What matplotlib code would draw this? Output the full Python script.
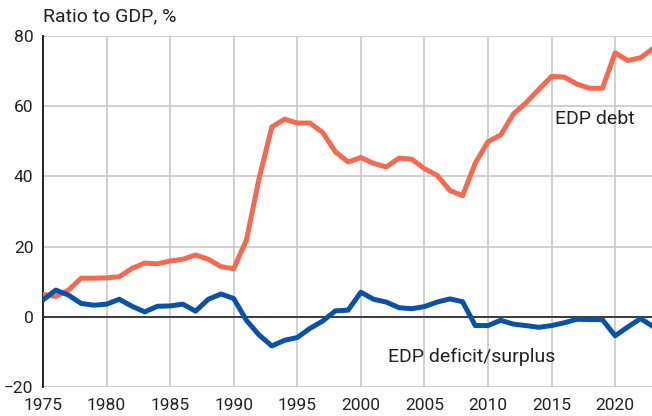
import matplotlib
matplotlib.use("Agg")
import matplotlib.pyplot as plt

years = list(range(1975, 2024))
debt = [6.4, 5.8, 7.6, 11.0, 11.0, 11.1, 11.4, 13.8, 15.3, 15.1, 15.9, 16.4, 17.6, 16.4, 14.3, 13.7,
        21.9, 39.5, 54.1, 56.3, 55.2, 55.2, 52.5, 47.0, 44.1, 45.4, 43.7, 42.7, 45.2, 44.9,
        42.2, 40.3, 36.0, 34.5, 43.8, 49.9, 51.8, 57.8, 61.0, 64.8, 68.5, 68.3, 66.3, 65.1, 65.1,
        75.2, 73.0, 73.8, 76.5]
deficit = [4.8, 7.6, 6.2, 3.8, 3.3, 3.6, 5.0, 3.0, 1.4, 3.0, 3.1, 3.6, 1.6, 5.0, 6.5, 5.2,
           -1.0, -5.2, -8.3, -6.7, -5.9, -3.3, -1.2, 1.7, 1.9, 7.0, 5.0, 4.2, 2.6, 2.3,
           2.9, 4.2, 5.1, 4.3, -2.5, -2.5, -1.0, -2.1, -2.5, -3.0, -2.5, -1.7, -0.7, -0.8, -0.8,
           -5.4, -2.9, -0.5, -2.8]
xticks = [1975, 1980, 1985, 1990, 1995, 2000, 2005, 2010, 2015, 2020]
yticks = [-20, 0, 20, 40, 60, 80]

plt.rcParams['font.family'] = ['Liberation Sans Narrow', 'Roboto', 'DejaVu Sans']
fig = plt.figure(figsize=(6.52, 4.16), dpi=100)
ax = fig.add_axes([43/652, 1-387/416, (652-43)/652, (387-36)/416])

ax.plot(years, debt, color='#F46A50', lw=3.6, solid_joinstyle='round', zorder=3, clip_on=True)
ax.plot(years, deficit, color='#0A52A5', lw=3.6, solid_joinstyle='round', zorder=3, clip_on=True)
ax.axhline(0, color='#222222', lw=1.2, zorder=2)

ax.set_xlim(1975, 2022.9)
ax.set_ylim(-20, 80)
ax.set_xticks(xticks)
ax.set_yticks(yticks)
ax.grid(True, color='#c8c8c8', lw=1.2, zorder=0)
for s in ['top', 'right', 'bottom']:
    ax.spines[s].set_visible(False)
ax.spines['left'].set_color('#222222')
ax.spines['left'].set_linewidth(1.4)
ax.tick_params(length=0, labelsize=12.5, colors='#222222')
ax.tick_params(axis='x', pad=8)
ax.tick_params(axis='y', pad=7)

ax.text(0.0, 1.03, 'Ratio to GDP, %', transform=ax.transAxes, fontsize=14,
        color='#222222', ha='left', va='bottom')
ax.text(2015.3, 56.3, 'EDP debt', fontsize=14, color='#222222', ha='left', va='center')
ax.text(2002.1, -11.4, 'EDP deficit/surplus', fontsize=14, color='#222222', ha='left', va='center')

fig.savefig('out.png', dpi=100)
